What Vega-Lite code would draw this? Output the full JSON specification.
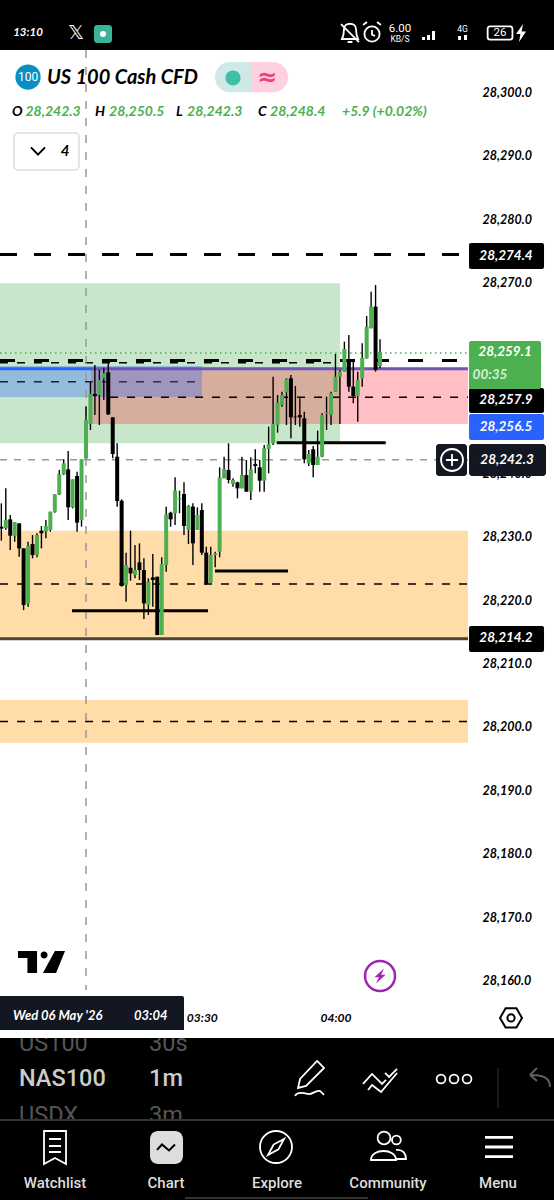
{
"$schema":"https://vega.github.io/schema/vega-lite/v6.json",
"width":554,"height":1200,"padding":0,"autosize":{"type":"none"},
"background":"#ffffff","view":{"stroke":null},
"resolve":{"scale":{"shape":"independent"}},
"datasets":{
"candles":[
{"minute":165,"open":28231.55,"high":28235.22,"low":28229.34,"close":28231.23},
{"minute":166,"open":28231.28,"high":28237.58,"low":28231.02,"close":28232.60},
{"minute":167,"open":28232.70,"high":28233.38,"low":28227.87,"close":28230.13},
{"minute":168,"open":28230.13,"high":28232.23,"low":28229.18,"close":28232.23},
{"minute":169,"open":28232.07,"high":28232.07,"low":28226.82,"close":28228.13},
{"minute":170,"open":28228.13,"high":28228.13,"low":28218.42,"close":28219.21},
{"minute":171,"open":28219.47,"high":28229.18,"low":28218.95,"close":28228.50},
{"minute":172,"open":28228.81,"high":28230.23,"low":28226.56,"close":28227.08},
{"minute":173,"open":28227.08,"high":28230.50,"low":28226.72,"close":28230.23},
{"minute":174,"open":28230.92,"high":28231.65,"low":28228.13,"close":28230.50},
{"minute":175,"open":28230.76,"high":28232.60,"low":28229.71,"close":28231.65},
{"minute":176,"open":28231.02,"high":28233.91,"low":28230.76,"close":28233.91},
{"minute":177,"open":28233.91,"high":28236.64,"low":28233.75,"close":28236.64},
{"minute":178,"open":28236.64,"high":28240.47,"low":28236.53,"close":28239.79},
{"minute":179,"open":28239.79,"high":28242.15,"low":28239.68,"close":28241.52},
{"minute":180,"open":28240.57,"high":28243.46,"low":28232.60,"close":28234.59},
{"minute":181,"open":28234.59,"high":28239.00,"low":28234.43,"close":28239.00},
{"minute":182,"open":28239.53,"high":28240.21,"low":28230.76,"close":28232.18},
{"minute":183,"open":28232.60,"high":28242.15,"low":28231.55,"close":28242.15},
{"minute":184,"open":28242.3,"high":28250.5,"low":28242.3,"close":28248.4},
{"minute":185,"open":28247.72,"high":28254.38,"low":28246.77,"close":28252.44},
{"minute":186,"open":28252.44,"high":28257.01,"low":28249.13,"close":28252.12},
{"minute":187,"open":28252.28,"high":28256.22,"low":28247.56,"close":28254.65},
{"minute":188,"open":28254.91,"high":28256.59,"low":28251.50,"close":28255.70},
{"minute":189,"open":28255.85,"high":28257.27,"low":28249.13,"close":28249.24},
{"minute":190,"open":28248.77,"high":28248.77,"low":28242.31,"close":28242.99},
{"minute":191,"open":28242.57,"high":28244.67,"low":28234.70,"close":28235.59},
{"minute":192,"open":28235.64,"high":28235.85,"low":28222.10,"close":28222.20},
{"minute":193,"open":28222.36,"high":28227.45,"low":28219.73,"close":28225.50},
{"minute":194,"open":28225.09,"high":28230.92,"low":28223.04,"close":28224.20},
{"minute":195,"open":28223.93,"high":28228.66,"low":28223.41,"close":28224.72},
{"minute":196,"open":28225.93,"high":28228.92,"low":28223.15,"close":28224.72},
{"minute":197,"open":28224.72,"high":28226.56,"low":28217.00,"close":28219.47},
{"minute":198,"open":28219.21,"high":28223.41,"low":28217.63,"close":28222.88},
{"minute":199,"open":28223.57,"high":28227.24,"low":28218.95,"close":28223.15},
{"minute":200,"open":28223.67,"high":28223.67,"low":28214.48,"close":28214.48},
{"minute":201,"open":28214.48,"high":28226.72,"low":28214.48,"close":28225.67},
{"minute":202,"open":28225.50,"high":28234.70,"low":28224.46,"close":28233.49},
{"minute":203,"open":28233.75,"high":28233.91,"low":28231.55,"close":28232.70},
{"minute":204,"open":28233.65,"high":28239.32,"low":28231.81,"close":28237.22},
{"minute":205,"open":28235.85,"high":28237.22,"low":28233.65,"close":28236.01},
{"minute":206,"open":28236.69,"high":28238.53,"low":28230.23,"close":28231.65},
{"minute":207,"open":28231.02,"high":28234.96,"low":28228.81,"close":28234.80},
{"minute":208,"open":28234.70,"high":28235.22,"low":28225.50,"close":28228.92},
{"minute":209,"open":28231.02,"high":28234.59,"low":28231.02,"close":28233.38},
{"minute":210,"open":28234.17,"high":28235.22,"low":28227.08,"close":28227.45},
{"minute":211,"open":28227.45,"high":28228.40,"low":28222.36,"close":28222.52},
{"minute":212,"open":28222.73,"high":28228.40,"low":28222.73,"close":28227.08},
{"minute":213,"open":28227.08,"high":28227.61,"low":28225.14,"close":28227.35},
{"minute":214,"open":28227.61,"high":28240.89,"low":28226.72,"close":28239.32},
{"minute":215,"open":28239.16,"high":28242.57,"low":28239.16,"close":28240.63},
{"minute":216,"open":28240.47,"high":28244.67,"low":28238.37,"close":28238.90},
{"minute":217,"open":28238.27,"high":28239.16,"low":28237.85,"close":28238.90},
{"minute":218,"open":28238.53,"high":28238.63,"low":28236.01,"close":28237.58},
{"minute":219,"open":28237.58,"high":28242.57,"low":28237.58,"close":28239.68},
{"minute":220,"open":28239.68,"high":28242.05,"low":28237.06,"close":28237.06},
{"minute":221,"open":28237.06,"high":28242.47,"low":28235.74,"close":28240.57},
{"minute":222,"open":28241.42,"high":28243.73,"low":28239.95,"close":28241.10},
{"minute":223,"open":28240.89,"high":28242.05,"low":28237.06,"close":28238.79},
{"minute":224,"open":28238.79,"high":28244.41,"low":28237.06,"close":28243.88},
{"minute":225,"open":28243.78,"high":28247.30,"low":28239.95,"close":28244.57},
{"minute":226,"open":28244.67,"high":28255.17,"low":28244.41,"close":28247.72},
{"minute":227,"open":28247.56,"high":28252.28,"low":28246.35,"close":28251.07},
{"minute":228,"open":28250.71,"high":28252.81,"low":28250.45,"close":28252.28},
{"minute":229,"open":28252.70,"high":28254.91,"low":28247.56,"close":28254.75},
{"minute":230,"open":28254.91,"high":28255.43,"low":28245.46,"close":28248.77},
{"minute":231,"open":28248.87,"high":28253.70,"low":28247.56,"close":28248.77},
{"minute":232,"open":28249.13,"high":28251.76,"low":28247.30,"close":28248.77},
{"minute":233,"open":28248.61,"high":28249.66,"low":28241.52,"close":28242.15},
{"minute":234,"open":28241.52,"high":28243.62,"low":28241.10,"close":28242.99},
{"minute":235,"open":28243.73,"high":28244.25,"low":28239.32,"close":28241.26},
{"minute":236,"open":28241.26,"high":28246.67,"low":28241.26,"close":28242.57},
{"minute":237,"open":28242.57,"high":28249.40,"low":28242.47,"close":28249.13},
{"minute":238,"open":28249.29,"high":28252.02,"low":28246.77,"close":28249.50},
{"minute":239,"open":28249.13,"high":28252.81,"low":28247.56,"close":28252.55},
{"minute":240,"open":28252.81,"high":28258.74,"low":28252.81,"close":28255.17},
{"minute":241,"open":28255.17,"high":28256.22,"low":28247.72,"close":28255.96},
{"minute":242,"open":28255.96,"high":28260.68,"low":28255.96,"close":28259.53},
{"minute":243,"open":28257.90,"high":28261.73,"low":28252.81,"close":28253.60},
{"minute":244,"open":28253.60,"high":28257.80,"low":28250.97,"close":28252.12},
{"minute":245,"open":28252.12,"high":28255.96,"low":28248.08,"close":28254.65},
{"minute":246,"open":28254.91,"high":28260.42,"low":28253.60,"close":28258.16},
{"minute":247,"open":28258.03,"high":28264.73,"low":28258.03,"close":28263.05},
{"minute":248,"open":28262.78,"high":28268.56,"low":28262.78,"close":28266.20},
{"minute":249,"open":28266.20,"high":28269.61,"low":28255.96,"close":28256.22},
{"minute":250,"open":28256.85,"high":28261.05,"low":28256.48,"close":28259.1}
]
},
"encoding":{
"x":{"field":"minute","type":"quantitative","scale":{"domain":[164.7,289.05],"nice":false,"zero":false,"padding":0},
  "axis":{"orient":"bottom","offset":-188,"values":[210,240],"labelExpr":"datum.value==210?'03:30':'04:00'","domain":false,"ticks":false,"grid":false,"title":null,"labelFont":"Lato","labelFontWeight":"bold","labelFontStyle":"italic","labelFontSize":12,"labelColor":"#000","labelPadding":0,"labelFlush":false,"labelOverlap":false,"labelBound":false}},
"y":{"field":"price","type":"quantitative","scale":{"domain":[28125.51,28314.49],"nice":false,"zero":false,"padding":0},
  "axis":{"orient":"right","offset":-72,"values":[28160,28170,28180,28190,28200,28210,28220,28230,28240,28270,28280,28290,28300],"format":",.1f","domain":false,"ticks":false,"grid":false,"title":null,"labelFont":"Lato","labelFontWeight":"bold","labelFontStyle":"italic","labelFontSize":12.5,"labelColor":"#000","labelPadding":0,"labelOverlap":false,"labelBound":false}}
},
"layer":[
{"data":{"values":[{"minute":164.7,"minute2":241.0,"price":28269.9,"price2":28244.7}]},
 "mark":{"type":"rect","color":"#c8e6c9"},
 "encoding":{"x2":{"field":"minute2"},"y2":{"field":"price2"}}},
{"data":{"values":[{"minute":164.7,"minute2":269.75,"price":28230.9,"price2":28213.9},{"minute":164.7,"minute2":269.75,"price":28204.25,"price2":28197.5}]},
 "mark":{"type":"rect","color":"#ffdca8"},"encoding":{"x2":{"field":"minute2"},"y2":{"field":"price2"}}},
{"data":{"values":[{"minute":164.7,"minute2":208.9,"price":28254.38}]},
 "mark":{"type":"rule","color":"#000","strokeWidth":1.6,"strokeDash":[8,9]},"encoding":{"x2":{"field":"minute2"}}},
{"data":{"values":[{"minute":185.13,"minute2":269.75,"price":28256.4,"price2":28247.72}]},
 "mark":{"type":"rect","color":"#ff1a30","opacity":0.28},"encoding":{"x2":{"field":"minute2"},"y2":{"field":"price2"}}},
{"data":{"values":[{"minute":164.7,"minute2":210.04,"price":28256.85,"price2":28251.97}]},
 "mark":{"type":"rect","color":"#2962ff","opacity":0.32},"encoding":{"x2":{"field":"minute2"},"y2":{"field":"price2"}}},
{"data":{"values":[{"minute":164.7,"minute2":269.75,"price":28274.4}]},
 "mark":{"type":"rule","color":"#000","strokeWidth":3,"strokeDash":[17,17]},"encoding":{"x2":{"field":"minute2"}}},
{"data":{"values":[{"minute":164.7,"minute2":269.75,"price":28257.7}]},
 "mark":{"type":"rule","color":"#000","strokeWidth":3,"strokeDash":[15,19]},"encoding":{"x2":{"field":"minute2"}}},
{"data":{"values":[{"minute":164.7,"minute2":241,"price":28257.37}]},
 "mark":{"type":"rule","color":"#000","strokeWidth":1.5,"strokeDash":[8,9]},"encoding":{"x2":{"field":"minute2"}}},
{"data":{"values":[{"minute":164.7,"minute2":269.75,"price":28258.9}]},
 "mark":{"type":"rule","color":"#4caf50","strokeWidth":1.3,"strokeDash":[1.5,3.5]},"encoding":{"x2":{"field":"minute2"}}},
{"data":{"values":[{"minute":164.7,"minute2":185.13,"price":28256.4}]},
 "mark":{"type":"rule","color":"#2962ff","strokeWidth":3},"encoding":{"x2":{"field":"minute2"}}},
{"data":{"values":[{"minute":185.13,"minute2":269.75,"price":28256.4}]},
 "mark":{"type":"rule","color":"#6a55b8","strokeWidth":3},"encoding":{"x2":{"field":"minute2"}}},
{"data":{"values":[{"minute":189.4,"minute2":269.75,"price":28251.93},{"minute":164.7,"minute2":269.75,"price":28222.52},{"minute":164.7,"minute2":269.75,"price":28200.87}]},
 "mark":{"type":"rule","color":"#000","strokeWidth":1.6,"strokeDash":[8,9]},"encoding":{"x2":{"field":"minute2"}}},
{"data":{"values":[{"minute":164.7,"minute2":269.75,"price":28242.1}]},
 "mark":{"type":"rule","color":"#999","strokeWidth":1.5,"strokeDash":[7,7]},"encoding":{"x2":{"field":"minute2"}}},
{"data":{"values":[{"minute":184,"price":28306.62,"price2":28158.58}]},
 "mark":{"type":"rule","color":"#999","strokeWidth":1.5,"strokeDash":[8,9]},"encoding":{"y2":{"field":"price2"}}},
{"data":{"values":[{"minute":164.7,"minute2":269.75,"price":28213.9}]},
 "mark":{"type":"rule","color":"#4a4632","strokeWidth":3},"encoding":{"x2":{"field":"minute2"}}},
{"data":{"values":[{"minute":180.86,"minute2":211.39,"price":28218.32},{"minute":212.96,"minute2":229.35,"price":28224.57},{"minute":226.81,"minute2":251.28,"price":28244.77}]},
 "mark":{"type":"rule","color":"#000","strokeWidth":3},"encoding":{"x2":{"field":"minute2"}}},
{"data":{"name":"candles"},"mark":{"type":"rule","color":"#000","strokeWidth":1.4},
 "encoding":{"y":{"field":"high","type":"quantitative","scale":{"domain":[28125.51,28314.49],"nice":false,"zero":false,"padding":0},
  "axis":{"orient":"right","offset":-72,"values":[28160,28170,28180,28190,28200,28210,28220,28230,28240,28270,28280,28290,28300],"format":",.1f","domain":false,"ticks":false,"grid":false,"title":null,"labelFont":"Lato","labelFontWeight":"bold","labelFontStyle":"italic","labelFontSize":12.5,"labelColor":"#000","labelPadding":0,"labelOverlap":false,"labelBound":false}},"y2":{"field":"low"}}},
{"data":{"name":"candles"},"mark":{"type":"bar","size":4,"orient":"vertical"},
 "encoding":{"y":{"field":"open","type":"quantitative","scale":{"domain":[28125.51,28314.49],"nice":false,"zero":false,"padding":0},
  "axis":{"orient":"right","offset":-72,"values":[28160,28170,28180,28190,28200,28210,28220,28230,28240,28270,28280,28290,28300],"format":",.1f","domain":false,"ticks":false,"grid":false,"title":null,"labelFont":"Lato","labelFontWeight":"bold","labelFontStyle":"italic","labelFontSize":12.5,"labelColor":"#000","labelPadding":0,"labelOverlap":false,"labelBound":false}},"y2":{"field":"close"},
 "color":{"condition":{"test":"datum.close>=datum.open","value":"#4caf50"},"value":"#000000"}}},
{"data":{"values":[{"minute":269.98,"minute2":286.81,"price":28276.22,"price2":28272.13},{"minute":269.98,"minute2":286.81,"price":28253.39,"price2":28249.45},{"minute":269.98,"minute2":286.81,"price":28215.91,"price2":28211.81}]},
 "mark":{"type":"rect","color":"#000","cornerRadius":2},"encoding":{"x2":{"field":"minute2"},"y2":{"field":"price2"}}},
{"data":{"values":[{"minute":269.98,"minute2":286.14,"price":28260.79,"price2":28253.23}]},
 "mark":{"type":"rect","color":"#4caf50","cornerRadius":2},"encoding":{"x2":{"field":"minute2"},"y2":{"field":"price2"}}},
{"data":{"values":[{"minute":269.98,"minute2":286.81,"price":28249.29,"price2":28245.2}]},
 "mark":{"type":"rect","color":"#2962ff","cornerRadius":2},"encoding":{"x2":{"field":"minute2"},"y2":{"field":"price2"}}},
{"data":{"values":[{"minute":269.98,"minute2":287.26,"price":28244.57,"price2":28239.53},{"minute":262.57,"minute2":269.53,"price":28244.57,"price2":28239.53}]},
 "mark":{"type":"rect","color":"#131722","cornerRadius":3},"encoding":{"x2":{"field":"minute2"},"y2":{"field":"price2"}}},
{"data":{"values":[{"minute":278.28,"price":28274.17,"label":"28,274.4"},{"minute":278.06,"price":28259.06,"label":"28,259.1"},{"minute":278.28,"price":28251.5,"label":"28,257.9"},{"minute":278.28,"price":28247.25,"label":"28,256.5"},{"minute":278.51,"price":28242.05,"label":"28,242.3"},{"minute":278.28,"price":28214.02,"label":"28,214.2"}]},
 "mark":{"type":"text","font":"Lato","fontWeight":"bold","fontStyle":"italic","fontSize":13.5,"color":"#fff","align":"center","baseline":"middle"},"encoding":{"text":{"field":"label"}}},
{"data":{"values":[{"minute":274.69,"price":28255.44,"label":"00:35"}]},
 "mark":{"type":"text","font":"Lato","fontWeight":"bold","fontStyle":"italic","fontSize":13.5,"color":"#d8f0d9","align":"center","baseline":"middle"},"encoding":{"text":{"field":"label"}}},
{"data":{"values":[{"minute":164.7,"minute2":206.0,"price":28157.64,"price2":28151.97}]},
 "mark":{"type":"rect","color":"#131722","cornerRadiusTopRight":2,"cornerRadiusBottomRight":2},"encoding":{"x2":{"field":"minute2"},"y2":{"field":"price2"}}},
{"data":{"values":[{"minute":167.62,"price":28154.49,"label":"Wed 06 May '26"},{"minute":194.78,"price":28154.49,"label":"03:04"}]},
 "mark":{"type":"text","font":"Lato","fontWeight":"bold","fontStyle":"italic","fontSize":13,"color":"#fff","align":"left","baseline":"middle"},"encoding":{"text":{"field":"label"}}},
{"data":{"values":[{"minute":164.7,"minute2":289.05,"price":28314.49,"price2":28306.62},{"minute":164.7,"minute2":289.05,"price":28151.03,"price2":28138.11}]},
 "mark":{"type":"rect","color":"#000"},"encoding":{"x2":{"field":"minute2"},"y2":{"field":"price2"}}},
{"data":{"values":[{"minute":168.96,"price":28150.08,"label":"US100"},{"minute":198.15,"price":28150.08,"label":"30s"},{"minute":168.96,"price":28138.74,"label":"USDX"},{"minute":198.15,"price":28138.74,"label":"3m"}]},
 "mark":{"type":"text","font":"Roboto","fontSize":23.5,"color":"#555","align":"left","baseline":"middle"},"encoding":{"text":{"field":"label"}}},
{"data":{"values":[{"minute":164.7,"minute2":209.59,"price":28152.29,"price2":28151.03}]},
 "mark":{"type":"rect","color":"#fff"},"encoding":{"x2":{"field":"minute2"},"y2":{"field":"price2"}}},
{"data":{"values":[{"minute":164.7,"minute2":289.05,"price":28138.11,"price2":28125.51}]},
 "mark":{"type":"rect","color":"#000"},"encoding":{"x2":{"field":"minute2"},"y2":{"field":"price2"}}},
{"data":{"values":[{"minute":164.7,"minute2":289.05,"price":28138.11},{"minute":206.23,"minute2":247.31,"price":28125.83}]},
 "mark":{"type":"rule","color":"#333","strokeWidth":2},"encoding":{"x2":{"field":"minute2"}}},
{"data":{"values":[{"minute":276.49,"price":28146.31,"price2":28139.98}]},
 "mark":{"type":"rule","color":"#333","strokeWidth":1},"encoding":{"y2":{"field":"price2"}}},
{"data":{"values":[{"minute":168.96,"price":28144.57,"label":"NAS100"},{"minute":198.15,"price":28144.57,"label":"1m"}]},
 "mark":{"type":"text","font":"Roboto","fontWeight":500,"fontSize":23.5,"color":"#ccc","align":"left","baseline":"middle"},"encoding":{"text":{"field":"label"}}},
{"data":{"values":[{"minute":177.05,"price":28128.19,"label":"Watchlist"},{"minute":201.96,"price":28128.19,"label":"Chart"},{"minute":226.88,"price":28128.19,"label":"Explore"},{"minute":251.79,"price":28128.19,"label":"Community"},{"minute":276.49,"price":28128.19,"label":"Menu"}]},
 "mark":{"type":"text","font":"Roboto","fontWeight":500,"fontSize":15,"color":"#ddd","align":"center","baseline":"middle"},"encoding":{"text":{"field":"label"}}},
{"data":{"values":[{"minute":198.37,"minute2":205.78,"price":28136.38,"price2":28131.18}]},
 "mark":{"type":"rect","color":"#ddd","cornerRadius":8},"encoding":{"x2":{"field":"minute2"},"y2":{"field":"price2"}}},
{"data":{"values":[
 {"minute":234.74,"price":28144.41,"icon":"pencil"},{"minute":250.0,"price":28144.57,"icon":"zigzag"},{"minute":266.61,"price":28144.57,"icon":"dots"},
 {"minute":177.05,"price":28133.86,"icon":"book"},{"minute":226.65,"price":28133.86,"icon":"compass"},{"minute":251.79,"price":28133.86,"icon":"people"},
 {"minute":243.26,"price":28309.29,"icon":"bell"},{"minute":248.2,"price":28309.29,"icon":"alarm"},{"minute":276.94,"price":28309.29,"icon":"battery"},{"minute":266.16,"price":28242.05,"icon":"plus"}]},
 "mark":{"type":"point","filled":false,"color":"#fff","strokeWidth":1.8,"size":1600,"opacity":1},
 "encoding":{"shape":{"field":"icon","type":"nominal","legend":null,"scale":{
  "domain":["pencil","zigzag","dots","book","compass","people","bell","alarm","battery","plus"],
  "range":[
  "M.25,-.95L.6,-.6L-.3,.3L-.7,.4L-.6,-.05Z M-.85,.8C-.75,.55 -.4,.65 -.2,.7C0,.75 .15,.5 .4,.55L.6,.75",
  "M-.85,.25L-.4,-.25L.1,.25L.3,.05M-.6,.55L-.4,.3L.05,.65L.85,-.3M.25,-.3L.45,-.1L.85,-.5",
  "M-.43,0A.22,.22 0 1,1 -.87,0A.22,.22 0 1,1 -.43,0Z M.22,0A.22,.22 0 1,1 -.22,0A.22,.22 0 1,1 .22,0Z M.87,0A.22,.22 0 1,1 .43,0A.22,.22 0 1,1 .87,0Z",
  "M-.55,-.8L.55,-.8L.55,.85L0,.55L-.55,.85Z M-.3,-.4L.3,-.4 M-.3,-.05L.3,-.05 M-.3,.25L.3,.25",
  "M.8,0A.8,.8 0 1,1 -.8,0A.8,.8 0 1,1 .8,0Z M.4,-.4L.12,.12L-.4,.4L-.12,-.12Z",
  "M.12,-.45A.32,.32 0 1,1 -.52,-.45A.32,.32 0 1,1 .12,-.45Z M.64,-.35A.22,.22 0 1,1 .2,-.35A.22,.22 0 1,1 .64,-.35Z M-.85,.65C-.85,.05 .4,.05 .4,.65Z M.4,.15C.75,.1 .9,.35 .9,.6L.4,.6",
  "M-.4,.3C-.3,.1 -.3,-.1 -.3,-.2C-.3,-.55 .3,-.55 .3,-.2C.3,-.1 .3,.1 .4,.3Z M-.12,.45L.12,.45 M-.45,-.45L.45,.45",
  "M.38,.05A.38,.38 0 1,1 -.38,.05A.38,.38 0 1,1 .38,.05Z M0,-.15L0,.08L.15,.15 M-.45,-.4L-.25,-.55 M.45,-.4L.25,-.55",
  "M-.5,-.33L.5,-.33Q.62,-.33 .62,-.2L.62,.2Q.62,.33 .5,.33L-.5,.33Q-.62,.33 -.62,.2L-.62,-.2Q-.62,-.33 -.5,-.33Z",
  "M.55,0A.55,.55 0 1,1 -.55,0A.55,.55 0 1,1 .55,0Z M-.3,0L.3,0 M0,-.3L0,.3"]}}}},
{"data":{"values":[{"minute":285.91,"price":28144.57,"icon":"back"}]},
 "mark":{"type":"point","filled":false,"color":"#888","strokeWidth":2,"size":1600,"shape":"M.5,.4C.5,-.1 .1,-.2 -.5,-.2M-.5,-.2L-.15,-.55M-.5,-.2L-.15,.1"}},
{"data":{"values":[{"minute":276.71,"price":28133.86,"icon":"menu"},{"minute":281.65,"price":28309.29,"icon":"chargebolt"}]},
 "mark":{"type":"point","filled":true,"color":"#fff","opacity":1,"size":1600},
 "encoding":{"shape":{"field":"icon","type":"nominal","legend":null,"scale":{"domain":["menu","chargebolt"],"range":["M-.7,-.55H.7V-.41H-.7Z M-.7,-.07H.7V.07H-.7Z M-.7,.41H.7V.55H-.7Z","M.1,-.45L-.25,.05L-.03,.05L-.1,.45L.25,-.08L.03,-.08Z"]}}}},
{"data":{"values":[{"minute":259.43,"minute2":260.1,"price":28308.66,"price2":28308.19},{"minute":260.55,"minute2":261.22,"price":28308.98,"price2":28308.19},{"minute":261.67,"minute2":262.35,"price":28309.61,"price2":28308.19},{"minute":267.51,"minute2":268.18,"price":28308.82,"price2":28308.19},{"minute":268.85,"minute2":269.53,"price":28308.98,"price2":28308.19}]},
 "mark":{"type":"rect","color":"#fff"},"encoding":{"x2":{"field":"minute2"},"y2":{"field":"price2"}}},
{"data":{"values":[{"minute":170.99,"price":28309.29,"label":"13:10"}]},
 "mark":{"type":"text","font":"Lato","fontWeight":"bold","fontStyle":"italic","fontSize":11.5,"color":"#fff","align":"center","baseline":"middle"},"encoding":{"text":{"field":"label"}}},
{"data":{"values":[{"minute":181.76,"price":28309.29,"label":"𝕏"}]},
 "mark":{"type":"text","font":"DejaVu Sans","fontSize":20,"color":"#fff","align":"center","baseline":"middle"},"encoding":{"text":{"field":"label"}}},
{"data":{"values":[{"minute":254.49,"price":28309.9,"label":"6.00"},{"minute":276.94,"price":28309.29,"label":"26"}]},
 "mark":{"type":"text","font":"Roboto","fontSize":11.5,"color":"#fff","align":"center","baseline":"middle"},"encoding":{"text":{"field":"label"}}},
{"data":{"values":[{"minute":254.49,"price":28308.4,"label":"KB/S"},{"minute":268.5,"price":28310.0,"label":"4G"}]},
 "mark":{"type":"text","font":"Roboto","fontSize":8.5,"color":"#fff","align":"center","baseline":"middle"},"encoding":{"text":{"field":"label"}}},
{"data":{"values":[{"minute":185.8,"minute2":189.84,"price":28310.55,"price2":28307.72}]},
 "mark":{"type":"rect","color":"#3bb39a","cornerRadius":3},"encoding":{"x2":{"field":"minute2"},"y2":{"field":"price2"}}},
{"data":{"values":[{"minute":187.82,"price":28309.14}]},
 "mark":{"type":"point","filled":true,"color":"#fff","opacity":1,"size":36,"shape":"circle"}},
{"data":{"values":[{"minute":170.99,"price":28302.36}]},
 "mark":{"type":"point","filled":true,"color":"#0a8fc2","opacity":1,"size":640,"shape":"circle"}},
{"data":{"values":[{"minute":170.99,"price":28302.36,"label":"100"}]},
 "mark":{"type":"text","font":"Roboto","fontSize":12,"color":"#fff","align":"center","baseline":"middle"},"encoding":{"text":{"field":"label"}}},
{"data":{"values":[{"minute":175.25,"price":28302.21,"label":"US 100 Cash CFD"}]},
 "mark":{"type":"text","font":"Lato","fontWeight":"bold","fontStyle":"italic","fontSize":20,"color":"#000","align":"left","baseline":"middle"},"encoding":{"text":{"field":"label"}}},
{"data":{"values":[{"minute":212.96,"minute2":221.27,"price":28304.73,"price2":28299.98}]},
 "mark":{"type":"rect","color":"#cfe9e6","cornerRadiusTopLeft":15,"cornerRadiusBottomLeft":15},"encoding":{"x2":{"field":"minute2"},"y2":{"field":"price2"}}},
{"data":{"values":[{"minute":221.27,"minute2":229.35,"price":28304.73,"price2":28299.98}]},
 "mark":{"type":"rect","color":"#ffd0df","cornerRadiusTopRight":15,"cornerRadiusBottomRight":15},"encoding":{"x2":{"field":"minute2"},"y2":{"field":"price2"}}},
{"data":{"values":[{"minute":217.0,"price":28302.21}]},
 "mark":{"type":"point","filled":true,"color":"#41bfa6","opacity":1,"size":230,"shape":"circle"}},
{"data":{"values":[{"minute":224.63,"price":28302.21,"label":"≈"}]},
 "mark":{"type":"text","font":"DejaVu Sans","fontWeight":"bold","fontSize":24,"color":"#f0407f","align":"center","baseline":"middle"},"encoding":{"text":{"field":"label"}}},
{"data":{"values":[{"minute":167.39,"price":28296.85,"label":"O"},{"minute":186.02,"price":28296.85,"label":"H"},{"minute":204.21,"price":28296.85,"label":"L"},{"minute":222.61,"price":28296.85,"label":"C"}]},
 "mark":{"type":"text","font":"Lato","fontWeight":"bold","fontStyle":"italic","fontSize":14,"color":"#000","align":"left","baseline":"middle"},"encoding":{"text":{"field":"label"}}},
{"data":{"values":[{"minute":170.4,"price":28296.85,"label":"28,242.3"},{"minute":189.17,"price":28296.85,"label":"28,250.5"},{"minute":206.68,"price":28296.85,"label":"28,242.3"},{"minute":225.31,"price":28296.85,"label":"28,248.4"},{"minute":241.47,"price":28296.85,"label":"+5.9 (+0.02%)"}]},
 "mark":{"type":"text","font":"Lato","fontWeight":"bold","fontStyle":"italic","fontSize":14,"color":"#4caf50","align":"left","baseline":"middle"},"encoding":{"text":{"field":"label"}}},
{"data":{"values":[{"minute":167.84,"minute2":182.43,"price":28293.54,"price2":28287.72}]},
 "mark":{"type":"rect","color":"#fff","stroke":"#dddddd","strokeWidth":1.5,"cornerRadius":4},"encoding":{"x2":{"field":"minute2"},"y2":{"field":"price2"}}},
{"data":{"values":[{"minute":179.29,"price":28290.71,"label":"4"}]},
 "mark":{"type":"text","font":"Lato","fontWeight":"bold","fontStyle":"italic","fontSize":15,"color":"#000","align":"center","baseline":"middle"},"encoding":{"text":{"field":"label"}}},
{"data":{"values":[{"minute":173.23,"price":28290.71,"icon":"chevron"},{"minute":279.4,"price":28154.18,"icon":"hex"},{"minute":279.4,"price":28154.18,"icon":"ring"},{"minute":201.96,"price":28133.78,"icon":"spark"}]},
 "mark":{"type":"point","filled":false,"color":"#000","strokeWidth":2,"size":1600,"opacity":1},
 "encoding":{"shape":{"field":"icon","type":"nominal","legend":null,"scale":{"domain":["chevron","hex","ring","spark"],"range":["M-.35,-.18L0,.18L.35,-.18","M-.55,0L-.27,-.48L.27,-.48L.55,0L.27,.48L-.27,.48Z","M.18,0A.18,.18 0 1,1 -.18,0A.18,.18 0 1,1 .18,0Z","M-.45,.12L-.2,-.15L.15,.15L.45,-.15"]}}}},
{"data":{"values":[{"minute":174.02,"price":28162.84}]},
 "mark":{"type":"point","filled":true,"color":"#000","opacity":1,"size":2209,"shape":"M-1,-.51L-.19,-.51L-.19,.43L-.6,.43L-.6,-.21L-1,-.21Z M-.04,-.34A.15,.15 0 1,1 .26,-.34A.15,.15 0 1,1 -.04,-.34Z M.57,-.51L1,-.51L.62,.43L.06,.43Z"}},
{"data":{"values":[{"minute":250.0,"price":28160.79}]},
 "mark":{"type":"point","filled":false,"color":"#9c27b0","opacity":1,"strokeWidth":2.5,"size":900,"shape":"circle"}},
{"data":{"values":[{"minute":250.0,"price":28160.79}]},
 "mark":{"type":"point","filled":true,"color":"#9c27b0","opacity":1,"size":1600,"shape":"M.2,-.38L-.28,.06L-.05,.06L-.2,.38L.28,-.06L.05,-.06Z"}}
]
}
